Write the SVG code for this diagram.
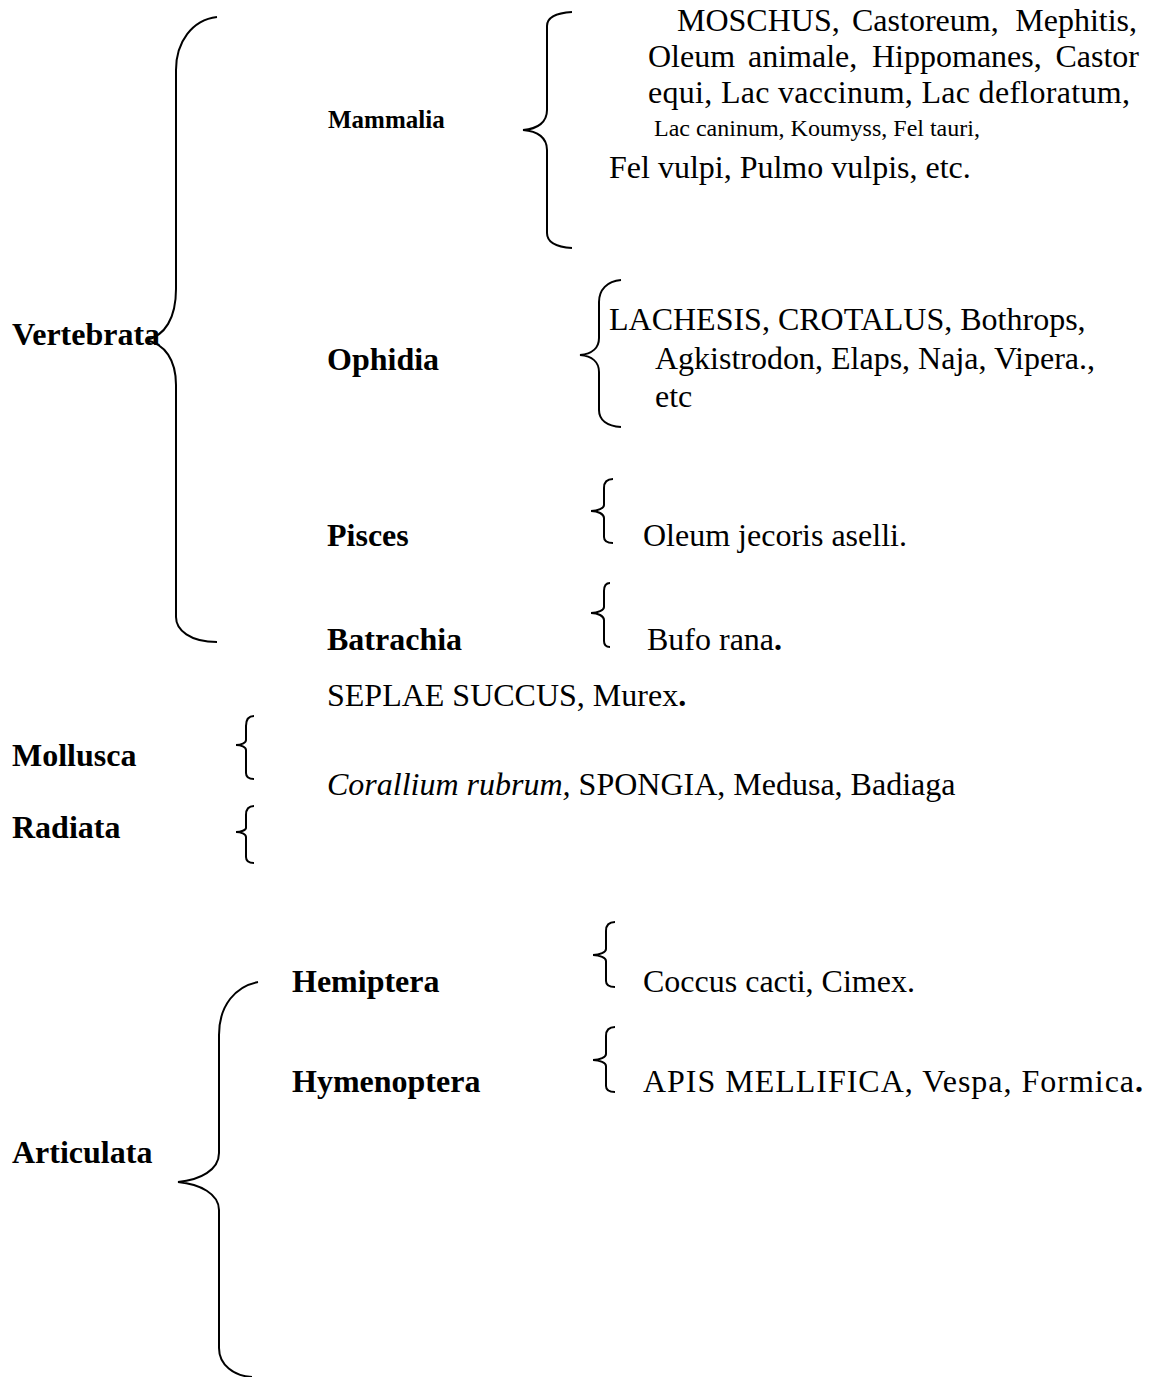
<svg xmlns="http://www.w3.org/2000/svg" width="1149" height="1377" viewBox="0 0 1149 1377">
<style>
text{font-family:"Liberation Serif","Times New Roman",serif;fill:#000}
.lb{font-weight:bold;font-size:32px}
.sm{font-weight:bold;font-size:25px}
.t{font-size:32px}
.t2{font-size:24px}
.br{fill:none;stroke:#000;stroke-width:2}
</style>
<rect width="1149" height="1377" fill="#fff"/>
<g id="connectors">
<path class="br" d="M217,17 C192,20 176,42 176,70 L176,289 C176,318 165,336 146,340 C165,344 176,360 176,385 L176,617 C176,630 190,642 217,642"/>
<path class="br" d="M572,12 C556,13 547,18 547,26 L547,110 C547,122 538,129 523,130 C538,131 547,138 547,150 L547,233 C547,242 556,247 572,248"/>
<path class="br" d="M621,280 C607,281 599,290 599,302 L599,338 C599,348 592,354 580,355 C592,356 599,362 599,372 L599,410 C599,420 607,426 621,427"/>
<path class="br" d="M613,479 C607,479 604,482 604,488 L604,505 C604,508 598,511 591,511 C598,511 604,514 604,518 L604,537 C604,541 607,543 613,543"/>
<path class="br" d="M610,583 C606,583 604,586 604,591 L604,607 C604,610 598,613 591,613 C598,613 604,616 604,620 L604,641 C604,645 606,647 610,647"/>
<path class="br" d="M254,716 C249,716 246,719 246,726 L246,740 C246,743 241,745 236,745 C241,745 246,747 246,750 L246,773 C246,777 249,779 254,779"/>
<path class="br" d="M254,806 C249,806 246,809 246,815 L246,828 C246,830 241,832 236,832 C241,832 246,834 246,837 L246,857 C246,861 249,863 254,863"/>
<path class="br" d="M615,922 C609,922 606,925 606,931 L606,949 C606,952 600,955 593,955 C600,955 606,958 606,961 L606,981 C606,985 609,987 615,987"/>
<path class="br" d="M615,1027 C609,1027 606,1030 606,1036 L606,1054 C606,1057 600,1060 593,1060 C600,1060 606,1063 606,1066 L606,1086 C606,1090 609,1092 615,1092"/>
<path class="br" d="M258,982 C236,986 219,1005 219,1035 L219,1153 C219,1170 200,1180 178,1182 C200,1184 219,1194 219,1210 L219,1348 C219,1365 234,1376 252,1377"/>
</g>
<g id="vertebrata"><text class="lb" x="12" y="345">Vertebrata</text></g>
<g id="mammalia"><text class="sm" x="328" y="128">Mammalia</text></g>
<g id="mammalia-list">
<text class="t" y="31"><tspan x="677">MOSCHUS,</tspan><tspan x="852">Castoreum,</tspan><tspan x="1137" text-anchor="end">Mephitis,</tspan></text>
<text class="t" y="67"><tspan x="648">Oleum</tspan><tspan x="748">animale,</tspan><tspan x="872">Hippomanes,</tspan><tspan x="1139" text-anchor="end">Castor</tspan></text>
<text class="t" x="648" y="103" textLength="482" lengthAdjust="spacing">equi, Lac vaccinum, Lac defloratum,</text>
<text class="t2" x="654" y="136">Lac caninum, Koumyss, Fel tauri,</text>
<text class="t" x="609" y="178">Fel vulpi, Pulmo vulpis, etc.</text>
</g>
<g id="ophidia"><text class="lb" x="327" y="370">Ophidia</text></g>
<g id="ophidia-list">
<text class="t" x="609" y="330">LACHESIS, CROTALUS, Bothrops,</text>
<text class="t" x="655" y="369">Agkistrodon, Elaps, Naja, Vipera.,</text>
<text class="t" x="655" y="407">etc</text>
</g>
<g id="pisces"><text class="lb" x="327" y="546">Pisces</text></g>
<g id="pisces-list"><text class="t" x="643" y="546">Oleum jecoris aselli.</text></g>
<g id="batrachia"><text class="lb" x="327" y="650">Batrachia</text></g>
<g id="batrachia-list"><text class="t" x="647" y="650">Bufo rana<tspan font-weight="bold">.</tspan></text></g>
<g id="mollusca-list"><text class="t" x="327" y="706">SEPLAE SUCCUS, Murex<tspan font-weight="bold">.</tspan></text></g>
<g id="mollusca"><text class="lb" x="12" y="766">Mollusca</text></g>
<g id="radiata-list"><text class="t" x="327" y="795"><tspan font-style="italic">Corallium rubrum,</tspan> SPONGIA, Medusa, Badiaga</text></g>
<g id="radiata"><text class="lb" x="12" y="838">Radiata</text></g>
<g id="hemiptera"><text class="lb" x="292" y="992">Hemiptera</text></g>
<g id="hemiptera-list"><text class="t" x="643" y="992">Coccus cacti, Cimex.</text></g>
<g id="hymenoptera"><text class="lb" x="292" y="1092">Hymenoptera</text></g>
<g id="hymenoptera-list"><text class="t" x="643" y="1092" textLength="500" lengthAdjust="spacing">APIS MELLIFICA, Vespa, Formica<tspan font-weight="bold">.</tspan></text></g>
<g id="articulata"><text class="lb" x="12" y="1163">Articulata</text></g>
</svg>
